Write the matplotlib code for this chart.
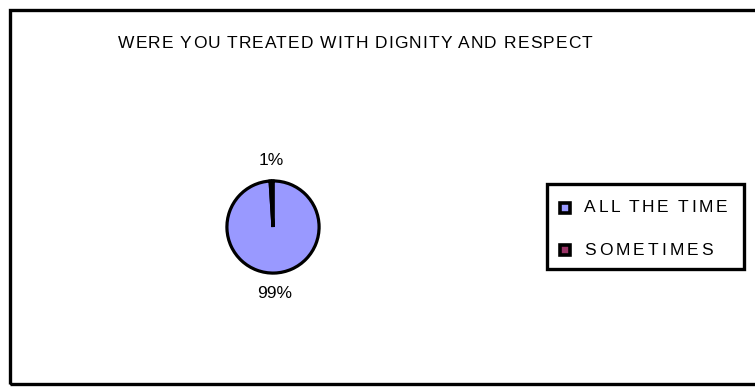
import matplotlib
matplotlib.use("Agg")
import matplotlib.pyplot as plt
from matplotlib.patches import Rectangle
from matplotlib.font_manager import FontProperties

plt.rcParams["font.family"] = ["Liberation Sans", "DejaVu Sans"]

# survey answers and their shares (percent)
answers = ["ALL THE TIME", "SOMETIMES"]
shares = [99, 1]
colors = ["#9999FF", "#993366"]
title = "WERE YOU TREATED WITH DIGNITY AND RESPECT"

W, H = 755, 388
FS = 12.5
fig = plt.figure(figsize=(W / 100, H / 100), dpi=100)
renderer = fig.canvas.get_renderer()
prop = FontProperties(family=["Liberation Sans"], size=FS)


def text_width(s):
    w, _, _ = renderer.get_text_width_height_descent(s, prop, ismath=False)
    return w


def spaced_text(x0, y, s, x1=None, track=0.0):
    """Write s starting at pixel x0 with extra letter spacing; if x1 is given,
    the spacing is chosen so the string ends at x1."""
    if x1 is not None:
        track = (x1 - x0 - text_width(s)) / (len(s) - 1)
    for i, ch in enumerate(s):
        if ch == " ":
            continue
        left = text_width(s[:i + 1]) - text_width(ch) + i * track
        fig.text((x0 + left) / W, 1 - y / H, ch, ha="left", va="center",
                 fontproperties=prop, color="black")


# outer chart frame
fig.patches.append(Rectangle((9.5 / W, 1 - 383.5 / H), 1.0, 374 / H,
                             transform=fig.transFigure, fill=False,
                             edgecolor="black", linewidth=2.4))

spaced_text(118, 43, title, x1=592)

# pie, centred at (273, 227) px with a radius of about 47 px
cx, cy, r = 273, 227, 47
ax = fig.add_axes([(cx - r) / W, 1 - (cy + r) / H, 2 * r / W, 2 * r / H])
wedges, texts = ax.pie(shares, colors=colors, startangle=90, counterclock=False,
                       labels=[f"{v}%" for v in shares], labeldistance=1.45,
                       wedgeprops=dict(edgecolor="black", linewidth=2.3),
                       textprops=dict(fontsize=FS, ha="center", va="center"))
ax.set_aspect("equal")
ax.set_xlim(-1.02, 1.02)
ax.set_ylim(-1.02, 1.02)
ax.axis("off")

# legend box with a swatch and a label per answer
fig.patches.append(Rectangle((547 / W, 1 - 269 / H), 197 / W, 85 / H,
                             transform=fig.transFigure, fill=False,
                             edgecolor="black", linewidth=2.4))
row_y = [208, 250]
label_end = [727, 713]
for name, col, y, x1 in zip(answers, colors, row_y, label_end):
    fig.patches.append(Rectangle((560 / W, 1 - (y + 5) / H), 10 / W, 10 / H,
                                 transform=fig.transFigure, facecolor=col,
                                 edgecolor="black", linewidth=2.6))
    spaced_text(584, y, name, x1=x1)

fig.savefig("out.png", dpi=100)
